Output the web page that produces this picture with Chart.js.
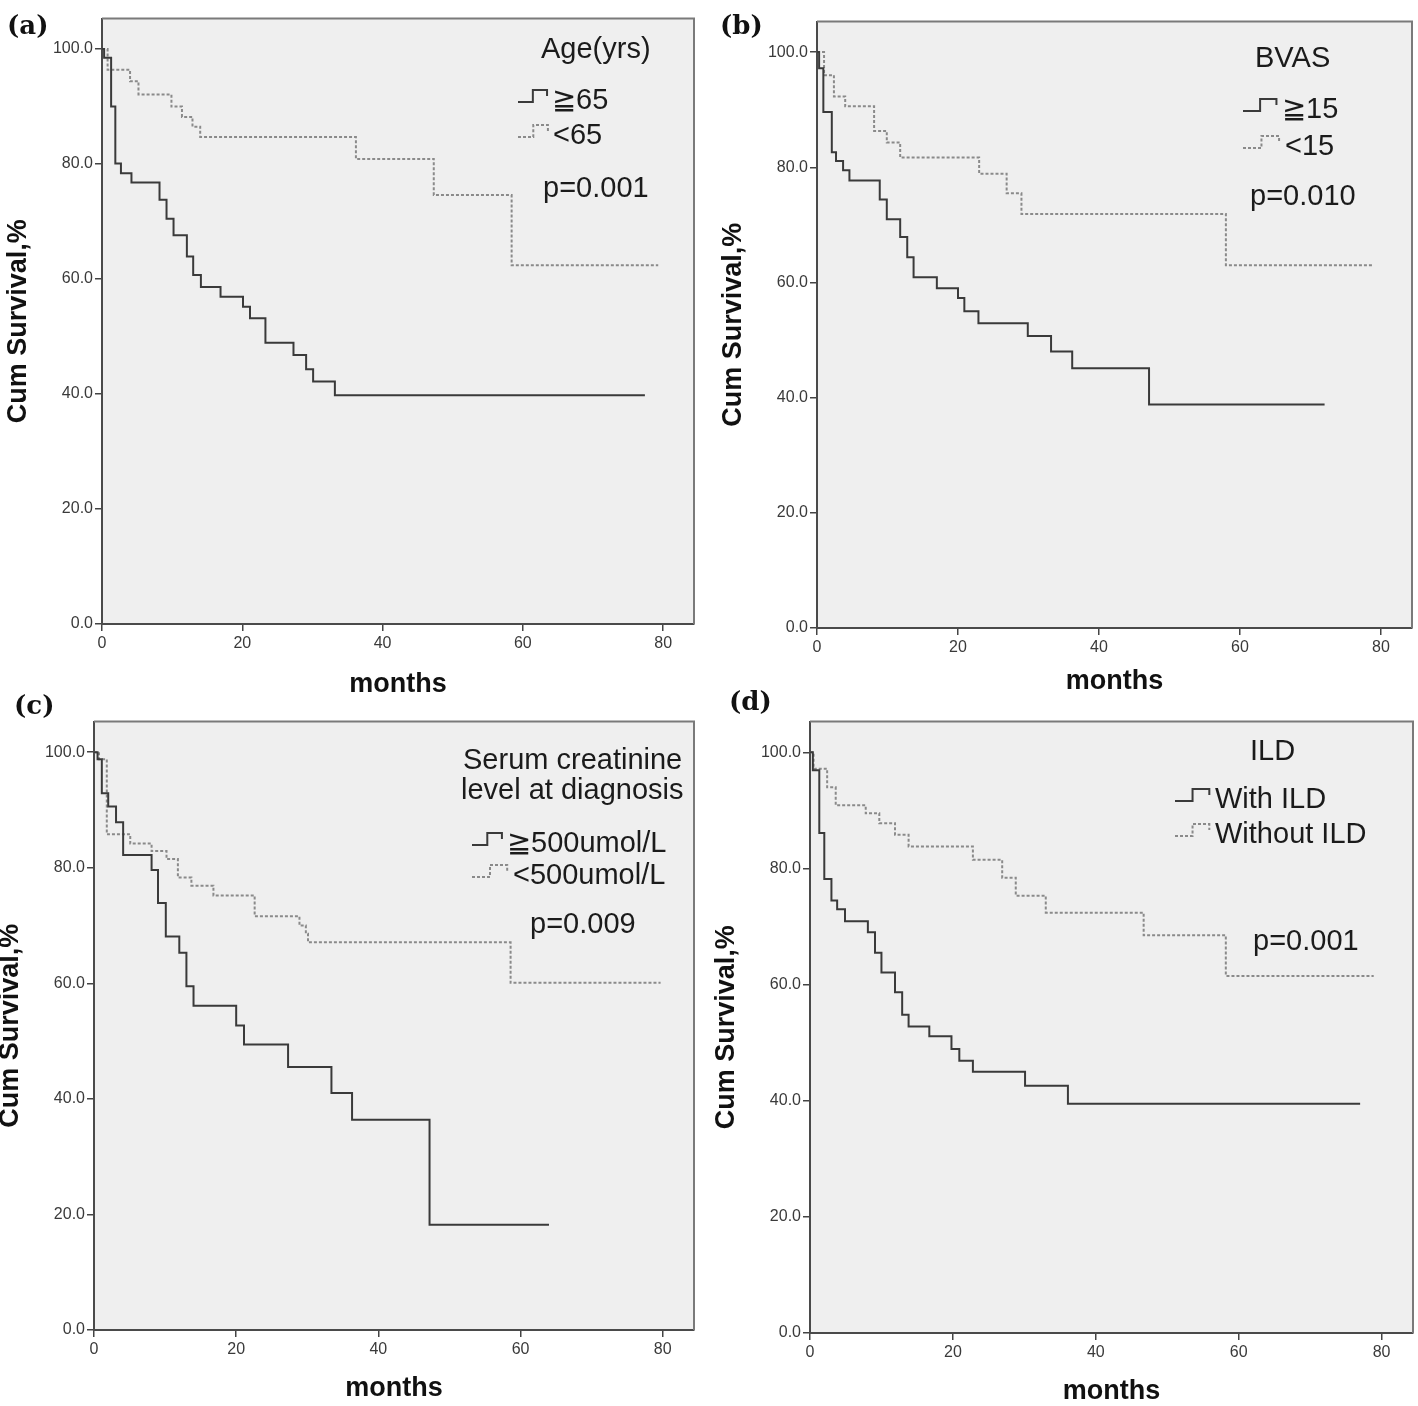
<!DOCTYPE html>
<html>
<head>
<meta charset="utf-8">
<script src="https://cdn.jsdelivr.net/npm/chart.js@4.4.1/dist/chart.umd.min.js"></script>
<style>
  html, body { margin: 0; padding: 0; background: #fff; }
  #page { position: relative; width: 1418px; height: 1406px; overflow: hidden; }
  #page canvas { position: absolute; }
  .tag { position: absolute; font: bold 26px "DejaVu Serif", serif; line-height: 26px; color: #111; }
</style>
</head>
<body>
<div id="page"></div>
<script>
// Kaplan-Meier curves: months -> cumulative survival (%).

const xTicks = [0, 20, 40, 60, 80];
const yTicks = [0, 20, 40, 60, 80, 100];

// (a) Age
const ageOldMonths = [0, 0.3, 1.3, 1.9, 2.7, 4.2, 8.2, 9.2, 10.2, 12.1, 13.0, 14.1, 16.9, 20.1, 21.1, 23.3, 27.3, 29.1, 30.1, 33.2, 77.4];
const ageOldSurv   = [100, 98.5, 90.0, 80.1, 78.4, 76.8, 73.8, 70.5, 67.6, 63.9, 60.7, 58.6, 56.9, 55.2, 53.2, 48.9, 46.8, 44.3, 42.2, 39.8, 39.8];
const ageYoungMonths = [0, 0.8, 4.0, 5.2, 9.9, 11.4, 12.9, 14.0, 36.2, 47.3, 58.4, 79.3];
const ageYoungSurv   = [100, 96.4, 94.4, 92.1, 90.0, 88.2, 86.5, 84.7, 80.9, 74.6, 62.4, 62.4];

// (b) BVAS
const bvasHighMonths = [0, 0.3, 0.9, 2.1, 2.7, 3.7, 4.6, 8.9, 9.9, 11.8, 12.8, 13.7, 17.0, 20.0, 20.9, 22.9, 29.9, 33.2, 36.2, 47.1, 72.0];
const bvasHighSurv   = [100, 97.2, 89.6, 82.6, 81.1, 79.5, 77.7, 74.4, 71.0, 67.9, 64.4, 60.9, 59.0, 57.3, 55.0, 52.9, 50.7, 48.0, 45.1, 38.8, 38.8];
const bvasLowMonths = [0, 1.0, 2.4, 4.0, 8.1, 9.9, 11.8, 23.0, 26.9, 29.0, 58.0, 78.8];
const bvasLowSurv   = [100, 96.0, 92.3, 90.6, 86.3, 84.3, 81.7, 78.9, 75.5, 71.9, 63.0, 63.0];

// (c) Serum creatinine
const scrHighMonths = [0, 0.5, 1.1, 2.0, 3.1, 4.1, 8.1, 9.0, 10.1, 12.0, 13.0, 14.0, 20.0, 21.1, 27.3, 33.4, 36.3, 47.2, 64.0];
const scrHighSurv   = [100, 98.8, 92.9, 90.6, 87.9, 82.2, 79.6, 73.9, 68.1, 65.3, 59.5, 56.1, 52.7, 49.4, 45.5, 41.0, 36.4, 18.2, 18.2];
const scrLowMonths = [0, 0.7, 1.8, 5.1, 8.1, 10.2, 11.8, 13.7, 16.8, 22.6, 28.9, 29.8, 30.1, 58.6, 79.7];
const scrLowSurv   = [100, 98.8, 85.8, 84.2, 82.9, 81.5, 78.3, 76.9, 75.2, 71.6, 70.0, 68.6, 67.1, 60.1, 60.1];

// (d) ILD
const ildMonths = [0, 0.4, 1.3, 2.0, 3.0, 3.8, 4.9, 8.1, 9.1, 10.0, 11.9, 12.9, 13.8, 16.7, 19.8, 20.9, 22.8, 30.1, 36.1, 77.0];
const ildSurv   = [100, 96.9, 86.1, 78.2, 74.5, 73.0, 70.9, 69.0, 65.5, 62.1, 58.7, 54.8, 52.8, 51.1, 48.9, 46.9, 45.0, 42.6, 39.5, 39.5];
const noIldMonths = [0, 0.5, 2.4, 3.6, 7.8, 9.7, 11.9, 13.8, 22.8, 26.9, 28.8, 33.0, 46.7, 58.2, 78.9];
const noIldSurv   = [100, 97.2, 94.0, 90.9, 89.5, 87.8, 85.8, 83.8, 81.5, 78.4, 75.3, 72.4, 68.5, 61.5, 61.5];

const X_MAX = 84.4;
const Y_MAX = 105.3;
const Y_AXIS_W = 102;
const X_AXIS_H = 78;
const PAD = 6;

const SOLID = { color: "#3a3a3a", dash: [] };
const DOTTED = { color: "#8a8a8a", dash: [3, 2] };
const TEXT_FONT = '29px Arial, "Liberation Sans", sans-serif';

// Panel layout, in page pixels. L/T/R/B is the plot box.
const panels = [
  {
    tag: "(a)", tagX: 7, tagY: 12,
    L: 102, T: 13, R: 694, B: 624, monthsPad: 3.5,
    series: [[ageOldMonths, ageOldSurv, SOLID], [ageYoungMonths, ageYoungSurv, DOTTED]],
    texts: [["Age(yrs)", 541, 58], ["p=0.001", 543, 197]],
    keys: [[SOLID, "≧65", 518, 552, 109], [DOTTED, "<65", 518, 553, 144]],
  },
  {
    tag: "(b)", tagX: 720, tagY: 12,
    L: 817, T: 16, R: 1412, B: 628, monthsPad: 10.5,
    series: [[bvasHighMonths, bvasHighSurv, SOLID], [bvasLowMonths, bvasLowSurv, DOTTED]],
    texts: [["BVAS", 1255, 67], ["p=0.010", 1250, 205]],
    keys: [[SOLID, "≧15", 1243, 1282, 118], [DOTTED, "<15", 1243, 1285, 155]],
  },
  {
    tag: "(c)", tagX: 14, tagY: 692,
    L: 94, T: 716, R: 694, B: 1330, monthsPad: 5.5,
    series: [[scrHighMonths, scrHighSurv, SOLID], [scrLowMonths, scrLowSurv, DOTTED]],
    texts: [["Serum creatinine", 463, 769], ["level at diagnosis", 461, 799], ["p=0.009", 530, 933]],
    keys: [[SOLID, "≧500umol/L", 472, 507, 852], [DOTTED, "<500umol/L", 472, 513, 884]],
  },
  {
    tag: "(d)", tagX: 729, tagY: 688,
    L: 810, T: 716, R: 1413, B: 1333, monthsPad: 5.5,
    series: [[ildMonths, ildSurv, SOLID], [noIldMonths, noIldSurv, DOTTED]],
    texts: [["ILD", 1250, 760], ["p=0.001", 1253, 950]],
    keys: [[SOLID, "With ILD", 1175, 1215, 808], [DOTTED, "Without ILD", 1175, 1215, 843]],
  },
];

function stepIcon(ctx, x, base, w, style) {
  const lo = base - 7, hi = base - 19;
  ctx.save();
  ctx.strokeStyle = style.color;
  ctx.lineWidth = 2;
  ctx.setLineDash(style.dash);
  ctx.beginPath();
  ctx.moveTo(x, lo);
  ctx.lineTo(x + w * 0.45, lo);
  ctx.lineTo(x + w * 0.45, hi);
  ctx.lineTo(x + w * 0.88, hi);
  ctx.lineTo(x + w * 0.88, hi + 6);
  ctx.stroke();
  ctx.restore();
}

function panelPlugin(p, offX, offY) {
  return {
    id: "panelDecor",
    beforeDraw(chart) {
      const a = chart.chartArea, ctx = chart.ctx;
      ctx.save();
      ctx.fillStyle = "#efefef";
      ctx.fillRect(a.left, a.top, a.right - a.left, a.bottom - a.top);
      ctx.restore();
    },
    afterDraw(chart) {
      const a = chart.chartArea, ctx = chart.ctx;
      ctx.save();
      ctx.strokeStyle = "#7a7a7a";
      ctx.lineWidth = 2;
      ctx.beginPath();
      ctx.moveTo(a.left, a.top);
      ctx.lineTo(a.right, a.top);
      ctx.lineTo(a.right, a.bottom);
      ctx.stroke();
      ctx.font = TEXT_FONT;
      ctx.fillStyle = "#1b1b1b";
      ctx.textBaseline = "alphabetic";
      ctx.textAlign = "left";
      for (const [t, x, y] of p.texts) ctx.fillText(t, x - offX, y - offY);
      for (const [style, t, ix, tx, y] of p.keys) {
        stepIcon(ctx, ix - offX, y - offY, tx - ix - 1, style);
        ctx.fillText(t, tx - offX, y - offY);
      }
      ctx.restore();
    },
  };
}

const page = document.getElementById("page");

for (const p of panels) {
  const left = p.L - Y_AXIS_W;
  const top = p.T - PAD;
  const w = (p.R - p.L) + Y_AXIS_W + PAD;
  const h = (p.B - p.T) + PAD + X_AXIS_H;

  const tag = document.createElement("div");
  tag.className = "tag";
  tag.textContent = p.tag;
  tag.style.left = p.tagX + "px";
  tag.style.top = p.tagY + "px";

  const cv = document.createElement("canvas");
  cv.width = w;
  cv.height = h;
  cv.style.left = left + "px";
  cv.style.top = top + "px";
  cv.style.width = w + "px";
  cv.style.height = h + "px";
  page.appendChild(cv);
  page.appendChild(tag);

  new Chart(cv, {
    type: "line",
    data: {
      datasets: p.series.map(([xs, ys, style]) => ({
        data: xs.map((m, i) => ({ x: m, y: ys[i] })),
        stepped: true,
        borderColor: style.color,
        borderDash: style.dash,
        borderWidth: 2,
        pointRadius: 0,
        fill: false,
      })),
    },
    options: {
      responsive: false,
      animation: false,
      devicePixelRatio: 1,
      layout: { padding: { top: PAD, right: PAD, left: 0, bottom: 0 } },
      plugins: { legend: { display: false }, tooltip: { enabled: false } },
      scales: {
        x: {
          type: "linear",
          min: 0,
          max: X_MAX,
          afterBuildTicks: (s) => { s.ticks = xTicks.map((v) => ({ value: v })); },
          afterFit: (s) => { s.height = X_AXIS_H; },
          ticks: {
            autoSkip: false,
            maxRotation: 0,
            padding: 3,
            color: "#3a3a3a",
            font: { family: 'Arial, "Liberation Sans", sans-serif', size: 16 },
            callback: (v) => String(v),
          },
          grid: { drawOnChartArea: false, drawTicks: true, tickLength: 7, color: "#444", lineWidth: 1.5 },
          border: { display: true, color: "#4a4a4a", width: 2 },
          title: {
            display: true,
            text: "months",
            color: "#111",
            padding: { top: 0, bottom: p.monthsPad },
            font: { family: 'Arial, "Liberation Sans", sans-serif', size: 27, weight: "bold", lineHeight: 1 },
          },
        },
        y: {
          type: "linear",
          min: 0,
          max: Y_MAX,
          afterBuildTicks: (s) => { s.ticks = yTicks.map((v) => ({ value: v })); },
          afterFit: (s) => { s.width = Y_AXIS_W; },
          ticks: {
            autoSkip: false,
            padding: 2,
            color: "#3a3a3a",
            font: { family: 'Arial, "Liberation Sans", sans-serif', size: 16 },
            callback: (v) => Number(v).toFixed(1),
          },
          grid: { drawOnChartArea: false, drawTicks: true, tickLength: 7, color: "#444", lineWidth: 1.5 },
          border: { display: true, color: "#4a4a4a", width: 2 },
          title: {
            display: true,
            text: "Cum Survival,%",
            color: "#111",
            padding: { top: 5, bottom: 0 },
            font: { family: 'Arial, "Liberation Sans", sans-serif', size: 27, weight: "bold", lineHeight: 1 },
          },
        },
      },
    },
    plugins: [panelPlugin(p, left, top)],
  });
}
</script>
</body>
</html>
